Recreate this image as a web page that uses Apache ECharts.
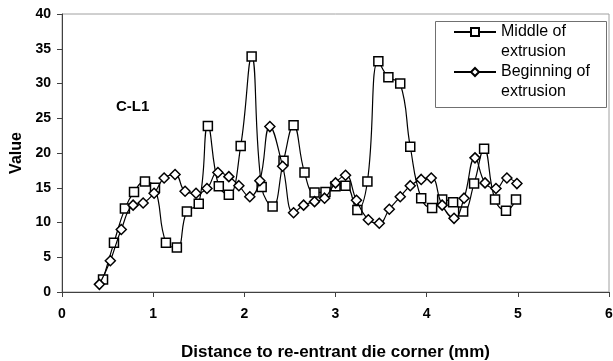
<!DOCTYPE html>
<html>
<head>
<meta charset="utf-8">
<script src="https://cdn.jsdelivr.net/npm/echarts@6/dist/echarts.min.js"></script>
<style>html,body{margin:0;padding:0;background:#fff}#c{width:613px;height:361px}</style>
</head>
<body>
<div id="c"></div>
<script>
const xTicks = [0, 1, 2, 3, 4, 5, 6];
const yTicks = [0, 5, 10, 15, 20, 25, 30, 35, 40];

const middleX = [0.45, 0.57, 0.69, 0.79, 0.91, 1.02, 1.14, 1.26, 1.37, 1.50, 1.60, 1.72, 1.83, 1.96, 2.08, 2.19, 2.31, 2.43, 2.54, 2.66, 2.77, 2.89, 3.00, 3.11, 3.24, 3.35, 3.47, 3.58, 3.71, 3.82, 3.94, 4.06, 4.17, 4.29, 4.40, 4.52, 4.63, 4.75, 4.87, 4.98];
const middleY = [1.8, 7.1, 12.0, 14.4, 15.9, 15.0, 7.1, 6.4, 11.6, 12.7, 23.9, 15.2, 14.0, 21.0, 33.9, 15.1, 12.3, 18.9, 24.0, 17.2, 14.3, 14.4, 15.2, 15.3, 11.8, 15.9, 33.2, 30.9, 30.0, 20.9, 13.5, 12.1, 13.3, 12.9, 11.6, 15.6, 20.6, 13.3, 11.7, 13.3];

const beginX = [0.41, 0.53, 0.65, 0.78, 0.89, 1.01, 1.12, 1.24, 1.35, 1.47, 1.59, 1.71, 1.83, 1.94, 2.06, 2.17, 2.28, 2.42, 2.54, 2.65, 2.77, 2.88, 3.00, 3.11, 3.23, 3.36, 3.48, 3.59, 3.71, 3.82, 3.94, 4.05, 4.17, 4.30, 4.41, 4.53, 4.64, 4.76, 4.88, 4.99];
const beginY = [1.1, 4.5, 9.0, 12.5, 12.8, 14.2, 16.4, 16.9, 14.5, 14.2, 14.9, 17.2, 16.6, 15.3, 13.7, 16.0, 23.8, 18.1, 11.4, 12.5, 13.0, 13.5, 15.7, 16.8, 13.2, 10.4, 9.9, 11.9, 13.7, 15.3, 16.2, 16.4, 12.5, 10.6, 13.5, 19.3, 15.7, 14.9, 16.4, 15.6];

const seriesNames = ['Middle of extrusion', 'Beginning of extrusion'];
const legendLabels = {
  'Middle of extrusion': '\nMiddle of\nextrusion',
  'Beginning of extrusion': '\nBeginning of\nextrusion'
};
const xTitle = 'Distance to re-entrant die corner (mm)';
const yTitle = 'Value';
const annotation = 'C-L1';

const FONT = 'Liberation Sans, Arial, sans-serif';
const chart = echarts.init(document.getElementById('c'), null, {renderer: 'canvas'});

const zip = (xs, ys) => xs.map((x, i) => [x, ys[i]]);

const legendText = {
  fontFamily: FONT, fontSize: 16, color: '#000', lineHeight: 20
};

chart.setOption({
  animation: false,
  backgroundColor: '#fff',
  title: {
    text: annotation, left: 116, top: 99, padding: 0,
    textStyle: {fontFamily: FONT, fontSize: 15, fontWeight: 'bold', color: '#000'}
  },
  grid: {
    left: 62, right: 4, top: 14, bottom: 69,
    containLabel: false, outerBoundsMode: 'none',
    show: true, borderColor: '#a0a0a0', borderWidth: 1, backgroundColor: 'transparent'
  },
  graphic: [{
    type: 'rect', left: 435, top: 21, z: 50,
    shape: {width: 171, height: 86},
    style: {fill: '#fff', stroke: '#707070', lineWidth: 1}
  }],
  legend: [
    {
      data: [seriesNames[0]], left: 453, top: 2, padding: 0, z: 60,
      itemWidth: 42, itemHeight: 10, itemGap: 0,
      formatter: n => legendLabels[n], textStyle: legendText
    },
    {
      data: [seriesNames[1]], left: 453, top: 42, padding: 0, z: 60,
      itemWidth: 42, itemHeight: 10, itemGap: 0,
      formatter: n => legendLabels[n], textStyle: legendText
    }
  ],
  xAxis: {
    type: 'value', min: 0, max: 6, interval: 1,
    name: xTitle, nameLocation: 'middle', nameGap: 52,
    nameTextStyle: {fontFamily: FONT, fontSize: 17, fontWeight: 'bold', color: '#000'},
    axisLine: {show: true, lineStyle: {color: '#404040', width: 1}},
    axisTick: {show: true, inside: false, length: 5, lineStyle: {color: '#404040'}},
    axisLabel: {
      margin: 15, fontFamily: FONT, fontSize: 14, fontWeight: 'bold', color: '#000',
      formatter: v => xTicks.includes(v) ? String(v) : ''
    },
    splitLine: {show: false}
  },
  yAxis: {
    type: 'value', min: 0, max: 40, interval: 5,
    name: yTitle, nameLocation: 'middle', nameGap: 35, nameRotate: 90,
    nameTextStyle: {fontFamily: FONT, fontSize: 16, fontWeight: 'bold', color: '#000'},
    axisLine: {show: true, lineStyle: {color: '#404040', width: 1}},
    axisTick: {show: true, inside: false, length: 5, lineStyle: {color: '#404040'}},
    axisLabel: {
      margin: 11, fontFamily: FONT, fontSize: 14, fontWeight: 'bold', color: '#000',
      formatter: v => yTicks.includes(v) ? String(v) : ''
    },
    splitLine: {show: false}
  },
  series: [
    {
      name: seriesNames[0], type: 'line', smooth: 0.45,
      data: zip(middleX, middleY),
      symbol: 'rect', symbolSize: 9, showAllSymbol: true,
      lineStyle: {color: '#000', width: 1.2},
      itemStyle: {color: '#fff', borderColor: '#000', borderWidth: 1.5},
      z: 3
    },
    {
      name: seriesNames[1], type: 'line', smooth: 0.45,
      data: zip(beginX, beginY),
      symbol: 'diamond', symbolSize: 10, showAllSymbol: true,
      lineStyle: {color: '#000', width: 1.2},
      itemStyle: {color: '#fff', borderColor: '#000', borderWidth: 1.5},
      z: 4
    }
  ]
});
</script>
</body>
</html>
